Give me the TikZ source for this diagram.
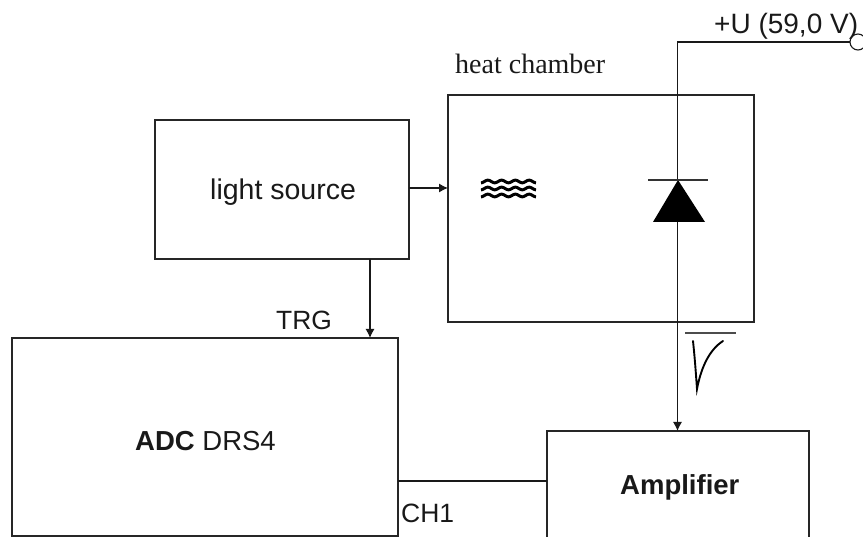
\documentclass[tikz,border=0pt]{standalone}
\usepackage{fontspec}
\setmainfont{Liberation Sans}
\newfontfamily\timesf{Liberation Serif}
\usetikzlibrary{arrows.meta}
\tikzset{
  block/.style={draw=black!85,line width=1.1pt,anchor=north west,inner sep=0pt,outer sep=0pt},
  wire/.style={draw=black!90,line width=1.1pt},
  arr/.style={wire,-{Latex[length=9pt,width=9pt]}},
  lab/.style={inner sep=0pt,anchor=base west,text=black!90},
  wave/.style={line width=3pt,black}
}
\newcommand{\fsz}[1]{\fontsize{#1}{#1}\selectfont}
\begin{document}
\begin{tikzpicture}[x=1pt,y=-1pt]
\useasboundingbox (0,0) rectangle (863,537);
\clip (0,0) rectangle (863,537);
\node[block,minimum width=254pt,minimum height=139pt] (light) at (155,120) {};
\node[block,minimum width=306pt,minimum height=227pt] (heat) at (448,95) {};
\node[block,minimum width=386pt,minimum height=198pt] (adc) at (12,338) {};
\node[block,minimum width=262pt,minimum height=130pt] (amp) at (547,431) {};
\node[draw=black!90,line width=1.1pt,circle,minimum size=16pt,inner sep=0pt,outer sep=0pt] (term) at (858,42) {};
\coordinate (corner) at (677.5,42);
\coordinate (cathode) at (677.5,180);
\coordinate (anode) at (677.5,222);
\coordinate (amptop) at (677.5,431);
\coordinate (lightout) at (409,188);
\coordinate (heatin) at (448,188);
\coordinate (trgA) at (370,259);
\coordinate (trgB) at (370,338);
\coordinate (chA) at (398,481);
\coordinate (chB) at (547,481);
\draw[wire] (term.west) -- (corner) -- (cathode);
\fill[black] (678,180) -- (705,222) -- (653,222) -- cycle;
\draw[line width=1.3pt,black!80] (648,180) -- (708,180);
\draw[arr] (anode) -- (amptop);
\draw[arr] (lightout) -- (heatin);
\draw[arr] (trgA) -- (trgB);
\draw[wire] (chA) -- (chB);
\foreach \yy in {181.5,188.5,195.5}
  \draw[wave] plot[domain=0:55,samples=80,smooth] ({481+\x},{\yy+1.3*sin(26.18*\x+90)});
\draw[line width=1.1pt,black!70] (685,333) -- (736,333);
\draw[line width=1.9pt,black,line cap=round] (693,341) .. controls (695,360) and (696,375) .. (697,389) .. controls (701,368) and (709,350) .. (723,341);
\node[lab,font=\fsz{28.5}] (tlight) at (210,200) {light source};
\node[lab,font=\fsz{28}\timesf] (theat) at (455,74) {heat chamber};
\node[lab,font=\fsz{28}] (tu) at (714,33.5) {+U (59,0 V)};
\node[lab,font=\fsz{26.4}] (ttrg) at (276,329.5) {TRG};
\node[lab,font=\fsz{26.5}] (tch) at (401,522) {CH1};
\node[lab,font=\fsz{27.5}] (tadc) at (135,450) {\textbf{ADC} DRS4};
\node[lab,font=\fsz{27.5}\bfseries] (tamp) at (620,494.5) {Amplifier};
\end{tikzpicture}
\end{document}
